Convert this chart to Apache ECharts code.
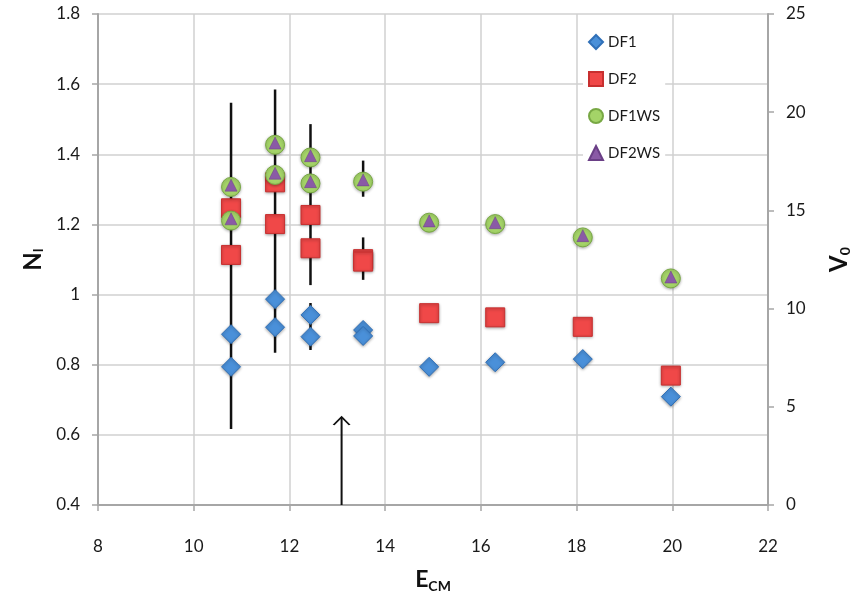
<!DOCTYPE html>
<html>
<head>
<meta charset="utf-8">
<script src="https://cdn.jsdelivr.net/npm/echarts@6/dist/echarts.min.js"></script>
<style>
  html, body { margin: 0; padding: 0; background: #fff; }
  #chart { width: 861px; height: 604px; }
</style>
</head>
<body>
<div id="chart"></div>
<script>
// N_I vs E_CM, four data sets, error bars and a marker arrow
var df1 = [[10.78, 0.887], [10.78, 0.794], [11.70, 0.987], [11.70, 0.907], [12.44, 0.942], [12.44, 0.880],
    [13.54, 0.899], [13.54, 0.882], [14.92, 0.794], [16.30, 0.807], [18.13, 0.816], [19.97, 0.709]];
var df2 = [[10.78, 1.246], [10.78, 1.113], [11.70, 1.320], [11.70, 1.201], [12.44, 1.227], [12.44, 1.132],
    [13.54, 1.101], [13.54, 1.094], [14.92, 0.947], [16.30, 0.935], [18.13, 0.908], [19.97, 0.769]];
var df1ws = [[10.78, 1.307], [10.78, 1.211], [11.70, 1.427], [11.70, 1.341], [12.44, 1.391], [12.44, 1.317],
    [13.54, 1.322], [14.92, 1.205], [16.30, 1.201], [18.13, 1.163], [19.97, 1.046]];
var df2ws = [[10.78, 1.312], [10.78, 1.216], [11.70, 1.432], [11.70, 1.346], [12.44, 1.396], [12.44, 1.322],
    [13.54, 1.327], [14.92, 1.210], [16.30, 1.205], [18.13, 1.168], [19.97, 1.050]];
// error bars: [x, low, high]
var errBars = [[10.78, 0.617, 1.547], [11.70, 0.834, 1.585], [12.44, 1.027, 1.486], [12.44, 0.842, 0.976],
    [13.54, 1.279, 1.382], [13.54, 1.042, 1.163]];
var arrowX = 13.09;
var arrowN = [0.4, 0.651];
var xTicks = [8, 22, 2];
var nTicks = [0.4, 1.8, 0.2];
var vTicks = [0, 25, 5];

(function() {
    var myChart = echarts.init(document.getElementById('chart'));
    var font = 'Lato';
    var axisGray = '#a6a6a6';
    var gridGray = '#d0d0d0';

    var option = {
        backgroundColor: '#fff',
        textStyle: { fontFamily: font },
        grid: { left: 98, right: 93, top: 14, bottom: 99 },
        legend: {
            orient: 'vertical',
            left: 583,
            top: 29,
            itemGap: 21,
            itemWidth: 14,
            itemHeight: 14,
            backgroundColor: '#fff',
            data: ['DF1', 'DF2', 'DF1WS', 'DF2WS'],
            textStyle: { fontSize: 15, color: '#1a1a1a', fontFamily: font }
        },
        xAxis: {
            type: 'value',
            min: xTicks[0], max: xTicks[1], interval: xTicks[2],
            name: '{a|E}{b|CM}',
            nameLocation: 'middle',
            nameGap: 62,
            nameTextStyle: {
                rich: {
                    a: { fontSize: 23, fontWeight: 'bold', color: '#111', fontFamily: font },
                    b: { fontSize: 14, fontWeight: 'bold', color: '#111', fontFamily: font, padding: [12, 0, 0, 0] }
                }
            },
            axisLine: { lineStyle: { color: axisGray, width: 2 } },
            axisTick: { show: true, length: 6, lineStyle: { color: axisGray, width: 1.5 } },
            axisLabel: { fontSize: 17, color: '#1a1a1a', margin: 33 },
            splitLine: { show: true, lineStyle: { color: gridGray, width: 1.5 } }
        },
        yAxis: [{
            type: 'value',
            min: nTicks[0], max: nTicks[1], interval: nTicks[2],
            name: '{a|N}{b|I}',
            nameLocation: 'middle',
            nameGap: 46,
            nameRotate: 90,
            nameTextStyle: {
                rich: {
                    a: { fontSize: 24, fontWeight: 'bold', color: '#111', fontFamily: font },
                    b: { fontSize: 13, fontWeight: 'bold', color: '#111', fontFamily: font, padding: [12, 0, 0, 0] }
                }
            },
            axisLine: { show: true, lineStyle: { color: axisGray, width: 2 } },
            axisTick: { show: true, length: 6, lineStyle: { color: axisGray, width: 1.5 } },
            axisLabel: { fontSize: 17, color: '#1a1a1a', margin: 18 },
            splitLine: { show: true, lineStyle: { color: gridGray, width: 1.5 } }
        }, {
            type: 'value',
            position: 'right',
            min: vTicks[0], max: vTicks[1], interval: vTicks[2],
            name: '{a|V}{b|0}',
            nameLocation: 'middle',
            nameGap: 58,
            nameRotate: 90,
            nameTextStyle: {
                rich: {
                    a: { fontSize: 24, fontWeight: 'bold', color: '#111', fontFamily: font },
                    b: { fontSize: 14, fontWeight: 'bold', color: '#111', fontFamily: font, padding: [12, 0, 0, 0] }
                }
            },
            axisLine: { show: true, lineStyle: { color: axisGray, width: 2 } },
            axisTick: { show: true, length: 6, lineStyle: { color: axisGray, width: 1.5 } },
            axisLabel: { fontSize: 17, color: '#1a1a1a', margin: 18 },
            splitLine: { show: false }
        }],
        series: [{
                type: 'custom',
                name: 'err',
                z: 1,
                silent: true,
                data: errBars,
                renderItem: function(params, api) {
                    var top = api.coord([api.value(0), api.value(2)]);
                    var bot = api.coord([api.value(0), api.value(1)]);
                    return {
                        type: 'line',
                        shape: { x1: top[0], y1: top[1], x2: bot[0], y2: bot[1] },
                        style: { stroke: '#111', lineWidth: 2.5 }
                    };
                },
                encode: { x: 0, y: [1, 2] }
            },
            {
                type: 'scatter',
                name: 'DF1',
                z: 3,
                symbol: 'diamond',
                symbolSize: 19,
                data: df1,
                itemStyle: {
                    color: '#4a90d9',
                    borderColor: '#3070b8',
                    borderWidth: 1,
                    shadowBlur: 3,
                    shadowColor: 'rgba(0,0,0,0.35)',
                    shadowOffsetY: 1,
                    opacity: 1
                }
            },
            {
                type: 'scatter',
                name: 'DF2',
                z: 3,
                symbol: 'rect',
                symbolSize: 19,
                data: df2,
                itemStyle: {
                    color: '#f04848',
                    borderColor: '#c83030',
                    borderWidth: 1,
                    shadowBlur: 3,
                    shadowColor: 'rgba(0,0,0,0.35)',
                    shadowOffsetY: 1,
                    opacity: 1
                }
            },
            {
                type: 'scatter',
                name: 'DF1WS',
                z: 4,
                symbol: 'circle',
                symbolSize: 19,
                data: df1ws,
                itemStyle: {
                    color: '#a4d468',
                    borderColor: '#78a844',
                    borderWidth: 1,
                    shadowBlur: 3,
                    shadowColor: 'rgba(0,0,0,0.3)',
                    shadowOffsetY: 1,
                    opacity: 1
                }
            },
            {
                type: 'scatter',
                name: 'DF2WS',
                z: 5,
                symbol: 'triangle',
                symbolSize: 12,
                data: df2ws,
                itemStyle: {
                    color: '#8a5aa6',
                    borderColor: '#6a3f86',
                    borderWidth: 0.5,
                    opacity: 1
                }
            },
            {
                type: 'line',
                name: 'arrow',
                z: 2,
                silent: true,
                data: [{
                    value: [arrowX, arrowN[0]],
                    symbol: 'none'
                }, {
                    value: [arrowX, arrowN[1]],
                    symbol: 'path://M0,8 L8,0 L16,8',
                    symbolSize: [16, 8],
                    symbolOffset: [0, 4]
                }],
                lineStyle: { color: '#111', width: 2 },
                itemStyle: { color: 'rgba(0,0,0,0)', borderColor: '#111', borderWidth: 1.5 },
                animation: false
            }
        ]
    };

    myChart.setOption(option);
    window.addEventListener('resize', function() {
        myChart.resize();
    });
})();
</script>
</body>
</html>
